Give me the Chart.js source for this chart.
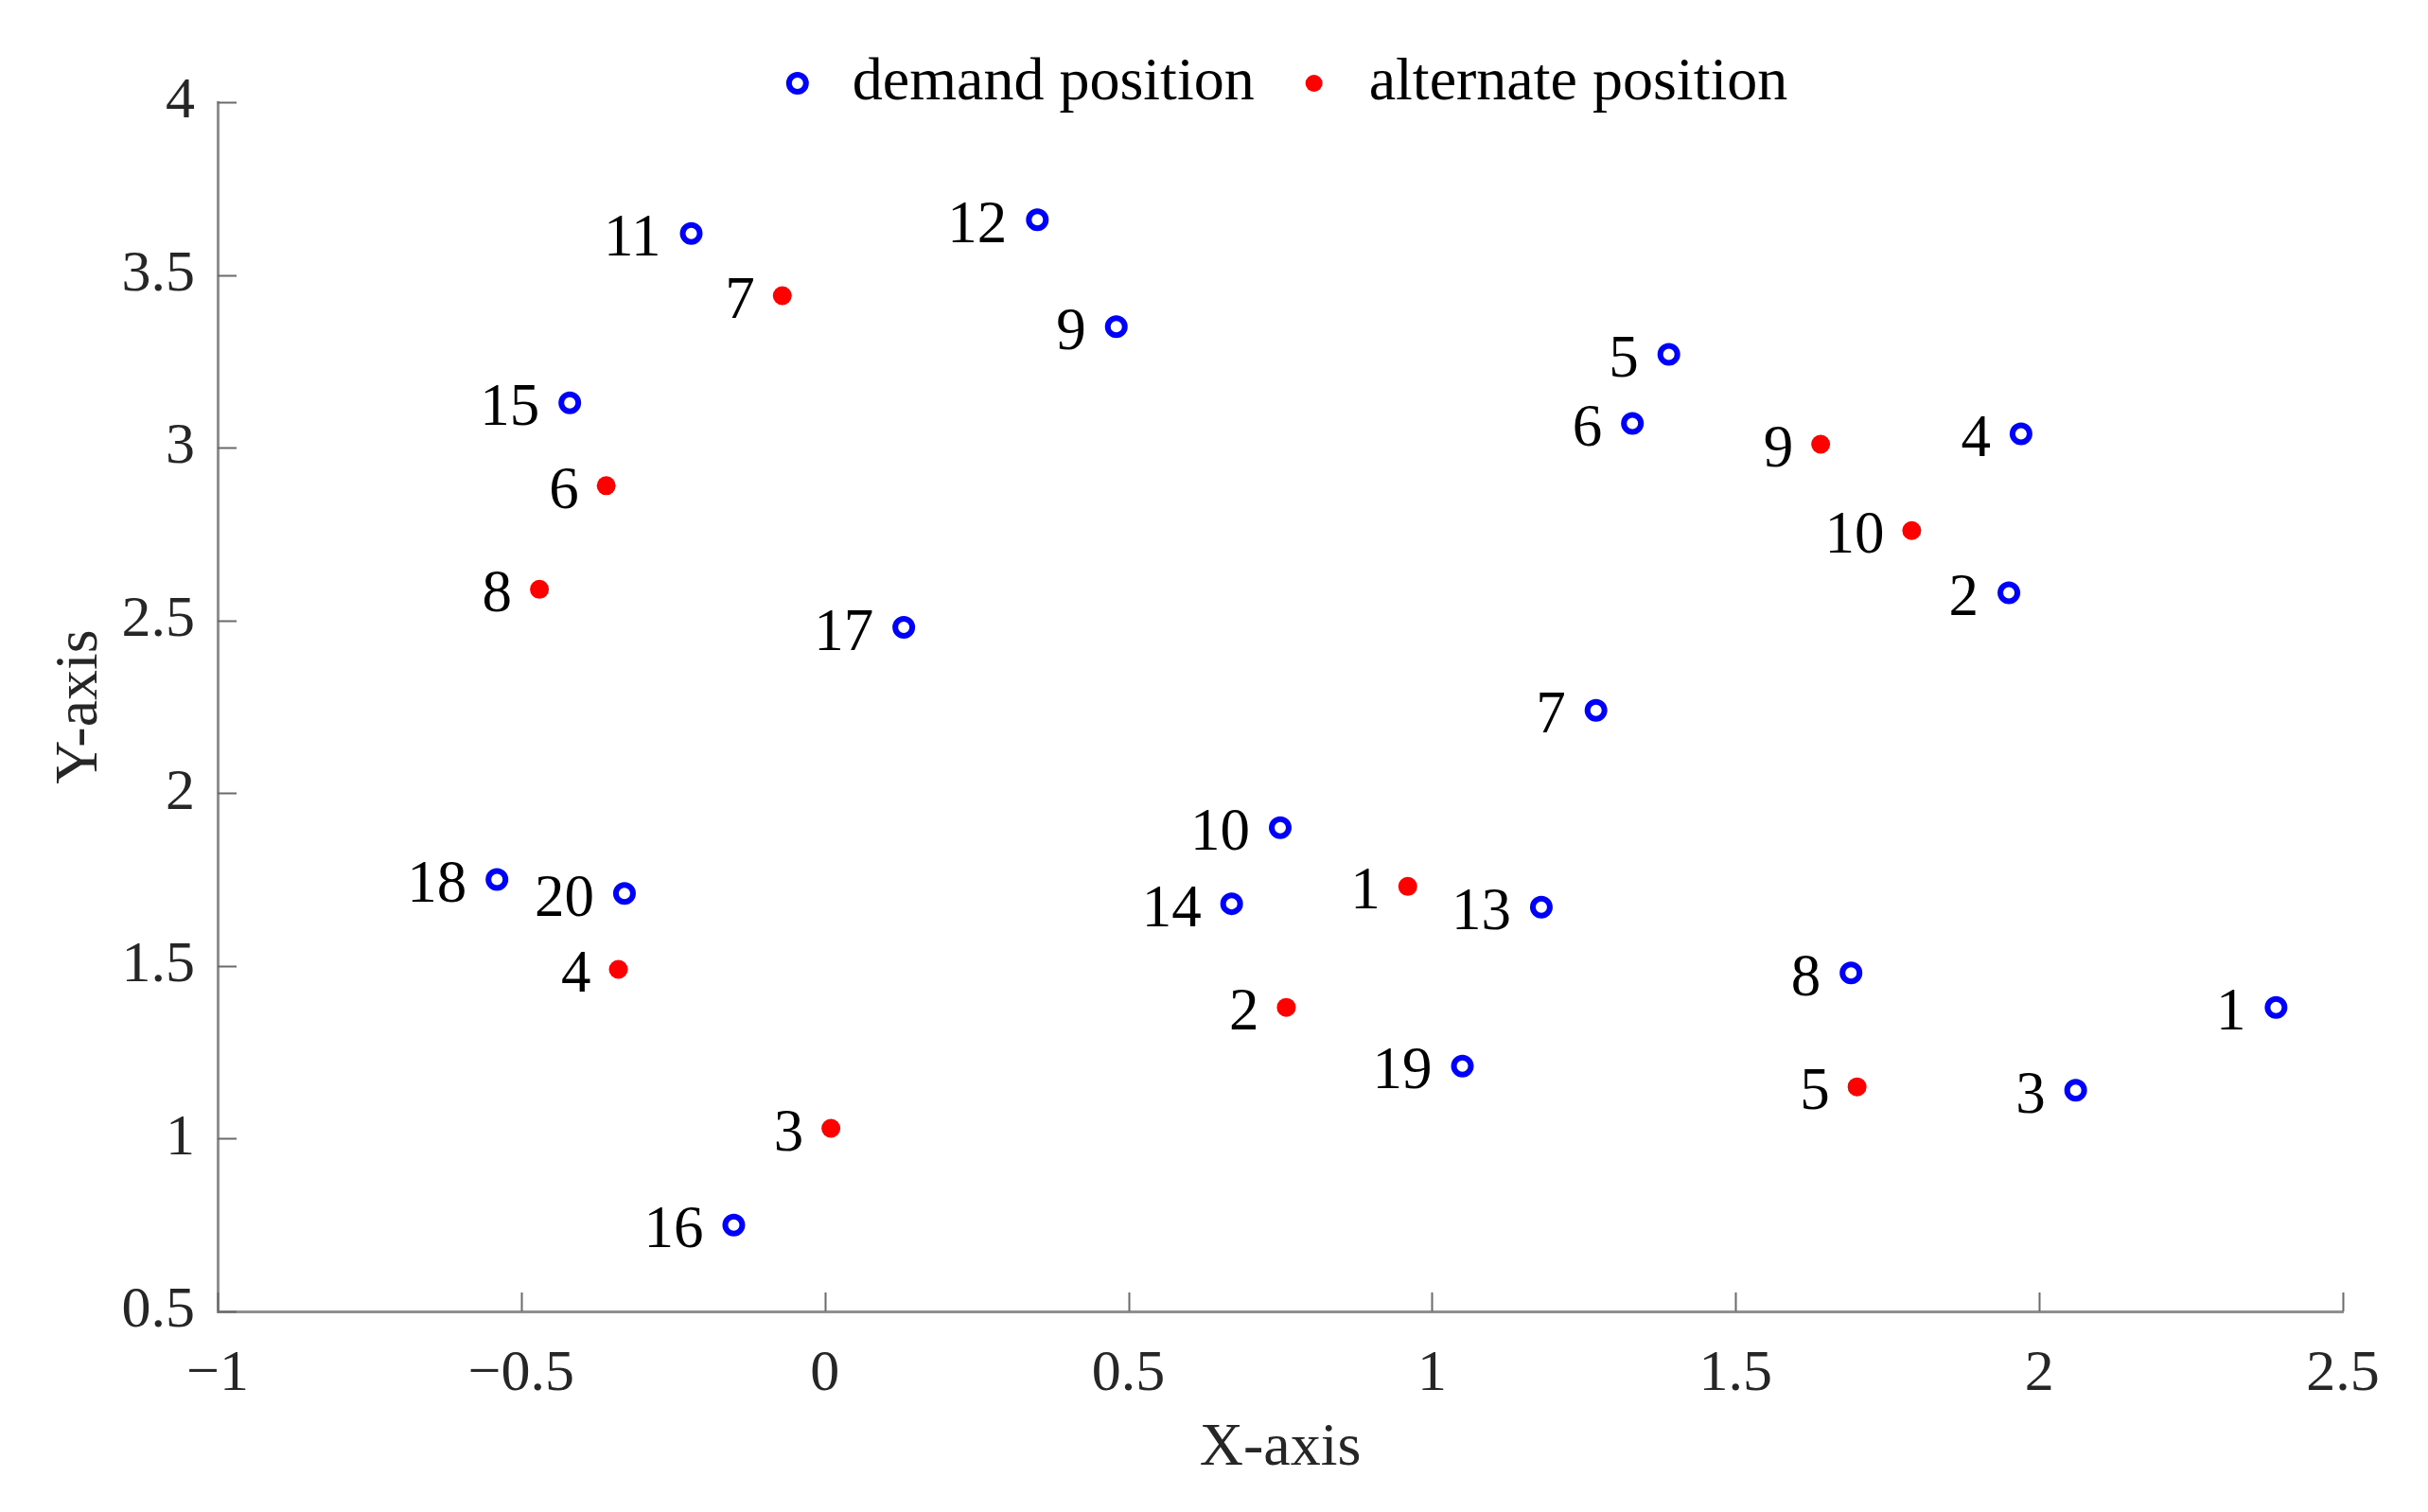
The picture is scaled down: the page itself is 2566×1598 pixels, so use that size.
<!DOCTYPE html>
<html>
<head>
<meta charset="utf-8">
<script src="https://cdn.jsdelivr.net/npm/chart.js@4.4.1/dist/chart.umd.min.js"></script>
<style>
    html, body { margin: 0; padding: 0; background: #fff; }
    #wrap { width: 2566px; height: 1598px; position: relative; }
</style>
</head>
<body>
<div id="wrap"><canvas id="posChart"></canvas></div>
<script>
// Demand positions (blue open circles)
const demandIds = ['1', '2', '3', '4', '5', '6', '7', '8', '9', '10',
                   '11', '12', '13', '14', '15', '16', '17', '18', '19', '20'];
const demandX = [2.39, 1.95, 2.06, 1.97, 1.39, 1.33, 1.27, 1.69, 0.48, 0.75,
                 -0.22, 0.35, 1.18, 0.67, -0.42, -0.15, 0.13, -0.54, 1.05, -0.33];
const demandY = [1.38, 2.58, 1.14, 3.04, 3.27, 3.07, 2.24, 1.48, 3.35, 1.90,
                 3.62, 3.66, 1.67, 1.68, 3.13, 0.75, 2.48, 1.75, 1.21, 1.71];

// Alternate positions (red dots)
const alternateIds = ['1', '2', '3', '4', '5', '6', '7', '8', '9', '10'];
const alternateX = [0.96, 0.76, 0.01, -0.34, 1.70, -0.36, -0.07, -0.47, 1.64, 1.79];
const alternateY = [1.73, 1.38, 1.03, 1.49, 1.15, 2.89, 3.44, 2.59, 3.01, 2.76];

// Axis ticks
const xTickValues = [-1, -0.5, 0, 0.5, 1, 1.5, 2, 2.5];
const yTickValues = [0.5, 1, 1.5, 2, 2.5, 3, 3.5, 4];

const FONT = '"Liberation Serif", "Times New Roman", serif';
Chart.defaults.font.family = FONT;
Chart.defaults.color = '#262626';

function toPoints(xs, ys) {
    return xs.map((x, i) => ({ x: x, y: ys[i] }));
}

function fmtTick(v) {
    return v < 0 ? '\u2212' + Math.abs(v) : String(v);
}

// point numbers written left of each marker
const pointLabels = {
    id: 'pointLabels',
    afterDatasetsDraw(chart) {
        const ctx = chart.ctx;
        const sets = [demandIds, alternateIds];
        const offsets = [32, 29];
        ctx.save();
        ctx.font = '63px ' + FONT;
        ctx.fillStyle = '#000';
        ctx.textAlign = 'right';
        ctx.textBaseline = 'middle';
        sets.forEach((ids, d) => {
            const meta = chart.getDatasetMeta(d);
            meta.data.forEach((pt, i) => {
                ctx.fillText(ids[i], pt.x - offsets[d], pt.y + 7);
            });
        });
        ctx.restore();
    }
};

// short inward tick marks like the original figure
const innerTicks = {
    id: 'innerTicks',
    afterDraw(chart) {
        const ctx = chart.ctx;
        const area = chart.chartArea;
        const xs = chart.scales.x;
        const ys = chart.scales.y;
        const len = 20;
        ctx.save();
        ctx.strokeStyle = '#6b6b6b';
        ctx.lineWidth = 2;
        ctx.beginPath();
        xTickValues.forEach(v => {
            const px = Math.round(xs.getPixelForValue(v)) + 0.5;
            ctx.moveTo(px, area.bottom);
            ctx.lineTo(px, area.bottom - len);
        });
        yTickValues.forEach(v => {
            const py = Math.round(ys.getPixelForValue(v)) + 0.5;
            ctx.moveTo(area.left, py);
            ctx.lineTo(area.left + len, py);
        });
        ctx.stroke();
        ctx.restore();
    }
};

// legend box is kept short so the plot starts high; let its text overhang
const legendOverhang = {
    id: 'legendOverhang',
    afterLayout(chart) {
        if (chart.legend) chart.legend.bottom += 30;
    }
};

const ctx = document.getElementById('posChart').getContext('2d');

const config = {
    type: 'scatter',
    data: {
        datasets: [
            {
                label: 'demand position',
                data: toPoints(demandX, demandY),
                pointStyle: 'circle',
                pointRadius: 9,
                pointHoverRadius: 9,
                borderWidth: 6,
                borderColor: '#0000ff',
                backgroundColor: '#ffffff'
            },
            {
                label: 'alternate position',
                data: toPoints(alternateX, alternateY),
                pointStyle: 'circle',
                pointRadius: 10,
                pointHoverRadius: 10,
                borderWidth: 0,
                borderColor: '#ff0000',
                backgroundColor: '#ff0000'
            }
        ]
    },
    options: {
        responsive: true,
        maintainAspectRatio: false,
        animation: false,
        layout: {
            padding: { top: 19, right: 90, bottom: 0, left: 0 }
        },
        plugins: {
            legend: {
                position: 'top',
                align: 'center',
                fullSize: false,
                maxHeight: 89,
                labels: {
                    usePointStyle: true,
                    boxWidth: 52,
                    boxHeight: 12.73,
                    padding: 37,
                    color: '#000',
                    font: { size: 64, family: FONT }
                }
            },
            tooltip: { enabled: false }
        },
        scales: {
            x: {
                type: 'linear',
                min: -1,
                max: 2.5,
                afterBuildTicks: scale => {
                    scale.ticks = xTickValues.map(v => ({ value: v }));
                },
                afterFit: scale => {
                    scale.height = 212;
                },
                grid: { display: false, drawTicks: false },
                border: { display: true, color: '#8f8f8f', width: 3 },
                ticks: {
                    autoSkip: false,
                    maxRotation: 0,
                    padding: 36,
                    color: '#262626',
                    font: { size: 62, lineHeight: 1, family: FONT },
                    callback: v => fmtTick(v)
                },
                title: {
                    display: true,
                    text: 'X-axis',
                    color: '#262626',
                    font: { size: 64, lineHeight: 1, family: FONT },
                    padding: { top: 0, bottom: 35 }
                }
            },
            y: {
                type: 'linear',
                min: 0.5,
                max: 4,
                afterBuildTicks: scale => {
                    scale.ticks = yTickValues.map(v => ({ value: v }));
                },
                afterFit: scale => {
                    scale.width = 230;
                },
                grid: { display: false, drawTicks: false },
                border: { display: true, color: '#8f8f8f', width: 3 },
                ticks: {
                    autoSkip: false,
                    padding: 24,
                    color: '#262626',
                    font: { size: 62, lineHeight: 1, family: FONT },
                    callback: v => fmtTick(v)
                },
                title: {
                    display: true,
                    text: 'Y-axis',
                    color: '#262626',
                    font: { size: 64, lineHeight: 1, family: FONT },
                    padding: { top: 53, bottom: 0 }
                }
            }
        }
    },
    plugins: [pointLabels, innerTicks, legendOverhang]
};

const chart = new Chart(ctx, config);
</script>
</body>
</html>
